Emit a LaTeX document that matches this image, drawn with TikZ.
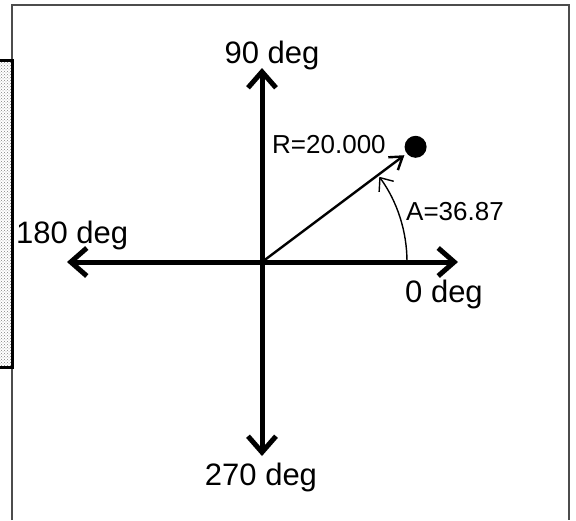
\documentclass[tikz,border=0pt]{standalone}
\usepackage{fontspec}
\setmainfont{Liberation Sans}
\usetikzlibrary{arrows.meta}
\usetikzlibrary{patterns}
\usetikzlibrary{calc}
\tikzset{
 axis/.style={line width=5pt,{Straight Barb[length=16pt,width=28pt]}-{Straight Barb[length=16pt,width=28pt]}},
 vec/.style={line width=2.4pt,-{Straight Barb[length=12pt,width=16pt]}},
 big/.style={inner sep=0pt,font=\fontsize{31}{36}\selectfont},
 small/.style={inner sep=0pt,font=\fontsize{26}{30}\selectfont}
}
\begin{document}
\begin{tikzpicture}[x=1pt,y=-1pt]
 \useasboundingbox (0,0) rectangle (576,520);
 % frame and shaded strip
 \fill[pattern=crosshatch dots,pattern color=gray] (0,60) rectangle (12,367);
 \draw[line width=1.8pt,black!70] (12,520) -- (12,5) -- (569,5) -- (569,520);
 \draw[line width=3pt] (0,60) -- (12,60) -- (12,367) -- (0,367);
 \coordinate (O) at (262,262);
 \coordinate (E) at (458,262);
 \coordinate (W) at (67,262);
 \coordinate (N) at (262,68);
 \coordinate (S) at (262,456);
 \coordinate (P) at ($(O)+(-36.87:178)$);
 \coordinate (A0) at ($(O)+(0:145)$);
 \node[circle,fill=black,minimum size=22pt,inner sep=0pt] (D) at (415.6,146.8) {};
 \node[big,anchor=base] (X1) at (272,63) {90 deg};
 \node[big,anchor=base west] (X2) at (16,243) {180 deg};
 \node[big,anchor=base west] (X3) at (405,302) {0 deg};
 \node[big,anchor=base] (X4) at (261,485) {270 deg};
 \node[small,anchor=base west] (X5) at (272,153) {R=20.000};
 \node[small,anchor=base west] (X6) at (406,220) {A=36.87};
 \draw [axis] (W) -- (E);
 \draw [axis] (N) -- (S);
 \draw [vec] (O) -- (P);
 \draw [line width=1.4pt,-{Straight Barb[length=11pt,width=18pt]}] (A0) arc [start angle=0,end angle=-36,radius=145];
\end{tikzpicture}
\end{document}
